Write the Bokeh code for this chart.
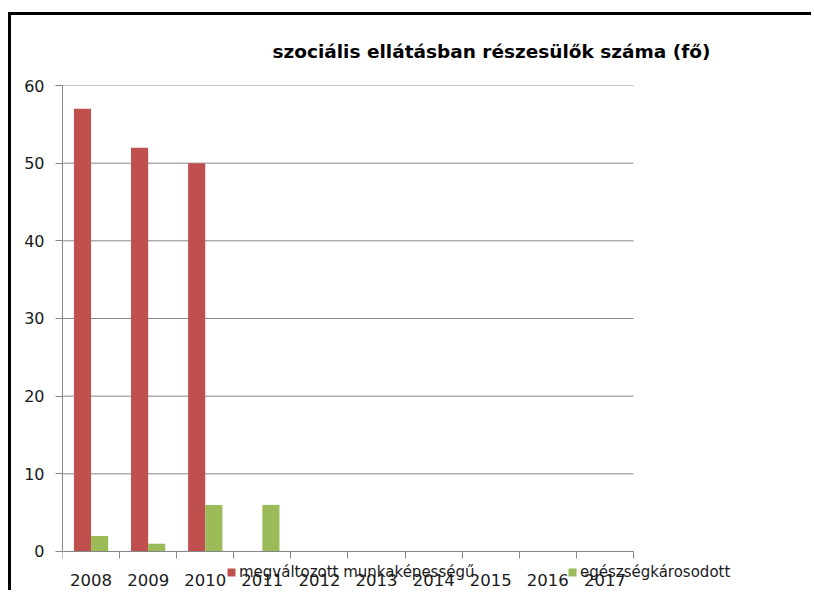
from bokeh.plotting import figure
from bokeh.models import (ColumnDataSource, Range1d, FixedTicker, Legend, LegendItem)
from bokeh.transform import dodge
from bokeh.embed import file_html
from bokeh.resources import INLINE

years = ["2008", "2009", "2010", "2011", "2012", "2013", "2014", "2015", "2016", "2017"]
munkakepesseg = [57, 52, 50, 0, 0, 0, 0, 0, 0, 0]
egeszsegkarosodott = [2, 1, 6, 6, 0, 0, 0, 0, 0, 0]
y_ticks = [0, 10, 20, 30, 40, 50, 60]

title_text = "szociális ellátásban részesülők száma (fő)"
name_red = "megváltozott munkaképességű"
name_green = "egészségkárosodott"

RED = "#C0504D"
GREEN = "#9BBB59"
GRAY = "#868686"
TXT = "#1a1a1a"
FONT = "DejaVu Sans"

n = len(years)
centers = [i + 0.5 for i in range(n)]
src = ColumnDataSource(dict(x=centers, red=munkakepesseg, green=egeszsegkarosodott))

p = figure(width=803, height=578, output_backend="svg", toolbar_location=None,
           x_range=Range1d(0, 13.17), y_range=Range1d(-5.41, 60),
           min_border_left=51, min_border_right=0, min_border_top=70, min_border_bottom=0)
p.styles = {"margin": "12px 0px 0px 8px", "border-top": "3px solid black",
            "border-left": "3px solid black"}
p.outline_line_color = None
p.background_fill_color = "white"

# horizontal grid lines over the category span only
p.xgrid.visible = False
p.ygrid.visible = False
p.segment(x0=[0] * len(y_ticks), x1=[n] * len(y_ticks), y0=y_ticks, y1=y_ticks,
          line_color=GRAY, line_width=1, level="underlay")

r1 = p.vbar(x=dodge("x", -0.15, range=p.x_range), top="red", width=0.3, source=src,
            fill_color=RED, line_color=None)
r2 = p.vbar(x=dodge("x", 0.15, range=p.x_range), top="green", width=0.3, source=src,
            fill_color=GREEN, line_color=None)

# title
p.title.text = title_text
p.title.align = "left"
p.title.offset = 210
p.title.text_font = FONT
p.title.text_font_size = "18.5px"
p.title.text_font_style = "bold"
p.title.text_color = "black"
p.title.vertical_align = "middle"
p.title.standoff = 46

# x axis (drawn at value 0)
xa = p.xaxis[0]
xa.fixed_location = 0
xa.bounds = (0, n)
xa.ticker = FixedTicker(ticks=centers, minor_ticks=list(range(n + 1)))
xa.major_label_overrides = {c: y for c, y in zip(centers, years)}
xa.major_tick_in = 0
xa.major_tick_out = 0
xa.minor_tick_in = 0
xa.minor_tick_out = 7
xa.minor_tick_line_color = GRAY
xa.axis_line_color = GRAY
xa.major_label_standoff = 16
xa.major_label_text_font = FONT
xa.major_label_text_font_size = "16.5px"
xa.major_label_text_color = TXT

# y axis
ya = p.yaxis[0]
ya.ticker = FixedTicker(ticks=y_ticks)
ya.bounds = (0, 60)
ya.major_tick_in = 0
ya.major_tick_out = 7
ya.minor_tick_line_color = None
ya.major_tick_line_color = GRAY
ya.axis_line_color = GRAY
ya.major_label_standoff = 11
ya.major_label_text_font = FONT
ya.major_label_text_font_size = "16px"
ya.major_label_text_color = TXT

def make_legend(label, renderer, loc):
    lg = Legend(items=[LegendItem(label=label, renderers=[renderer])], location=loc,
                orientation="horizontal", glyph_width=10, glyph_height=10,
                label_standoff=3, padding=0, margin=0, spacing=0,
                label_text_font=FONT, label_text_font_size="15px", label_text_color=TXT,
                border_line_color=None, background_fill_alpha=0, label_height=12)
    p.add_layout(lg, "center")

make_legend(name_red, r1, (164, 12))
make_legend(name_green, r2, (505, 12))

open("out.html", "w").write(file_html(p, INLINE))
